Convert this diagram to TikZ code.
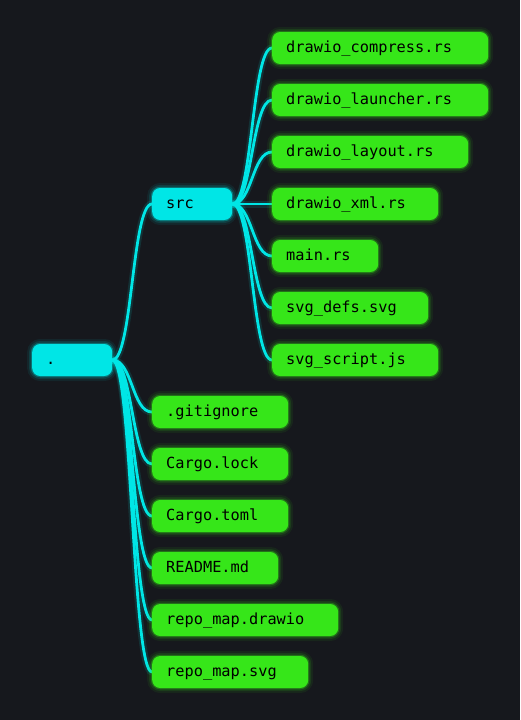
\documentclass[tikz,border=0pt]{standalone}
\usepackage{fontspec}
\setmonofont{DejaVu Sans Mono}
\usetikzlibrary{backgrounds}
\definecolor{bgcol}{HTML}{16181D}
\definecolor{dircol}{HTML}{00E6E6}
\definecolor{filecol}{HTML}{36E619}

\begin{document}
\begin{tikzpicture}[x=1pt,y=-1pt,
    entry/.style={shape=rectangle,rounded corners=8pt,anchor=west,minimum height=32pt,
        inner xsep=14pt,inner ysep=0pt,text width=#1,align=left,text=black,
        text height=10.5pt,text depth=2.5pt,
        font=\ttfamily\fontsize{15.3}{16}\selectfont},
    dirbox/.style={entry=#1,fill=dircol,
        preaction={draw=dircol,line width=10pt,opacity=0.07},
        preaction={draw=dircol,line width=6pt,opacity=0.12},
        preaction={draw=dircol,line width=2.5pt,opacity=0.3}},
    filebox/.style={entry=#1,fill=filecol,
        preaction={draw=filecol,line width=10pt,opacity=0.07},
        preaction={draw=filecol,line width=6pt,opacity=0.12},
        preaction={draw=filecol,line width=2.5pt,opacity=0.3}},
    link/.style={draw=dircol,line width=2.8pt,line cap=round,
        preaction={draw=dircol,line width=7pt,opacity=0.12}}]
    \useasboundingbox (0,0) rectangle (520,720);

    \node[dirbox=52pt] (root) at (32,360) {.};
    \node[dirbox=52pt] (src) at (152,204) {src};

    \node[filebox=188pt] (compress) at (272,48) {drawio\_compress.rs};
    \node[filebox=188pt] (launcher) at (272,100) {drawio\_launcher.rs};
    \node[filebox=168pt] (layout) at (272,152) {drawio\_layout.rs};
    \node[filebox=138pt] (xml) at (272,204) {drawio\_xml.rs};
    \node[filebox=78pt] (mainrs) at (272,256) {main.rs};
    \node[filebox=128pt] (defs) at (272,308) {svg\_defs.svg};
    \node[filebox=138pt] (script) at (272,360) {svg\_script.js};

    \node[filebox=108pt] (gitignore) at (152,412) {.gitignore};
    \node[filebox=108pt] (lock) at (152,464) {Cargo.lock};
    \node[filebox=108pt] (toml) at (152,516) {Cargo.toml};
    \node[filebox=98pt] (readme) at (152,568) {README.md};
    \node[filebox=158pt] (drawio) at (152,620) {repo\_map.drawio};
    \node[filebox=128pt] (svgmap) at (152,672) {repo\_map.svg};

    \begin{pgfonlayer}{background}
        \fill[bgcol] (0,0) rectangle (520,720);

        \draw[link] (root.east) .. controls +(20,0) and +(-20,0) .. (src.west);
        \draw[link] (root.east) .. controls +(20,0) and +(-20,0) .. (gitignore.west);
        \draw[link] (root.east) .. controls +(20,0) and +(-20,0) .. (lock.west);
        \draw[link] (root.east) .. controls +(20,0) and +(-20,0) .. (toml.west);
        \draw[link] (root.east) .. controls +(20,0) and +(-20,0) .. (readme.west);
        \draw[link] (root.east) .. controls +(20,0) and +(-20,0) .. (drawio.west);
        \draw[link] (root.east) .. controls +(20,0) and +(-20,0) .. (svgmap.west);

        \draw[link] (src.east) .. controls +(20,0) and +(-20,0) .. (compress.west);
        \draw[link] (src.east) .. controls +(20,0) and +(-20,0) .. (launcher.west);
        \draw[link] (src.east) .. controls +(20,0) and +(-20,0) .. (layout.west);
        \draw[link] (src.east) .. controls +(20,0) and +(-20,0) .. (xml.west);
        \draw[link] (src.east) .. controls +(20,0) and +(-20,0) .. (mainrs.west);
        \draw[link] (src.east) .. controls +(20,0) and +(-20,0) .. (defs.west);
        \draw[link] (src.east) .. controls +(20,0) and +(-20,0) .. (script.west);
    \end{pgfonlayer}
\end{tikzpicture}
\end{document}
